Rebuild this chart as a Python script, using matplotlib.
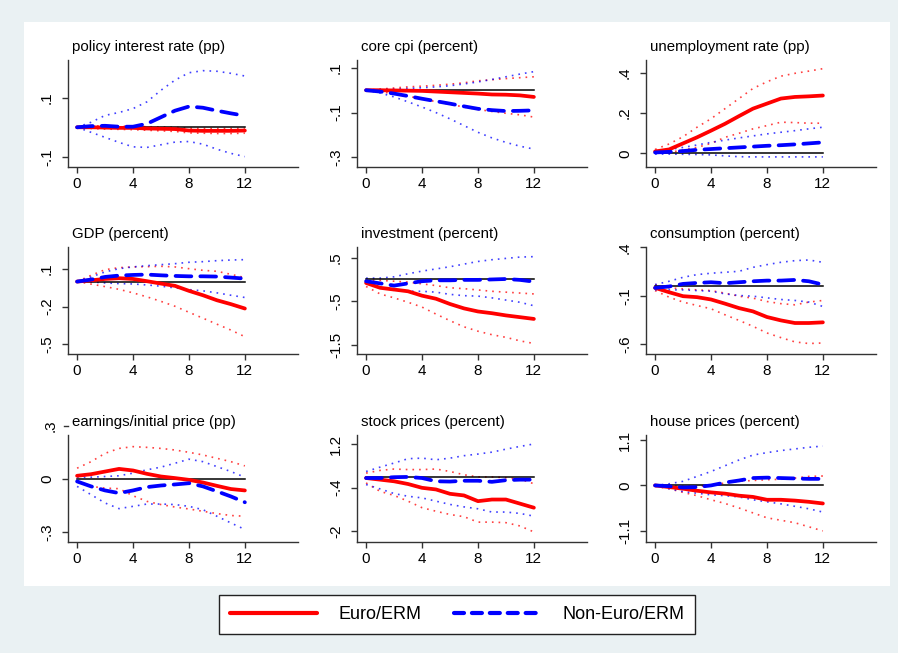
import matplotlib
matplotlib.use('Agg')
import matplotlib.pyplot as plt
from matplotlib.lines import Line2D
from matplotlib.patches import Rectangle

plt.rcParams['font.family'] = ['Liberation Sans', 'DejaVu Sans']

# horizon (quarters)
horizon = list(range(13))

# policy interest rate (pp)
policy_euro = [0, 0, -0.001, -0.002, -0.002, -0.004, -0.005, -0.006, -0.011, -0.012, -0.012, -0.012, -0.011]
policy_euro_hi = [0, 0.004, 0.005, 0.004, 0.003, 0.002, 0.001, 0, -0.003, -0.004, -0.004, -0.004, -0.003]
policy_euro_lo = [0, -0.004, -0.006, -0.007, -0.008, -0.01, -0.012, -0.014, -0.019, -0.02, -0.021, -0.021, -0.02]
policy_non = [0, 0.004, 0.005, 0.002, 0.002, 0.012, 0.034, 0.056, 0.07, 0.066, 0.056, 0.047, 0.039]
policy_non_hi = [0, 0.017, 0.04, 0.05, 0.063, 0.086, 0.125, 0.159, 0.184, 0.191, 0.189, 0.182, 0.173]
policy_non_lo = [0, -0.017, -0.034, -0.051, -0.066, -0.068, -0.059, -0.05, -0.048, -0.057, -0.074, -0.088, -0.099]

# core cpi (percent)
cpi_euro = [0, 0, -0.001, -0.002, -0.003, -0.006, -0.009, -0.012, -0.015, -0.019, -0.02, -0.023, -0.03]
cpi_euro_hi = [0, 0.005, 0.01, 0.015, 0.018, 0.022, 0.027, 0.033, 0.042, 0.047, 0.052, 0.056, 0.06]
cpi_euro_lo = [0, -0.007, -0.016, -0.027, -0.039, -0.051, -0.063, -0.075, -0.086, -0.095, -0.103, -0.11, -0.12]
cpi_non = [0, -0.006, -0.015, -0.026, -0.038, -0.049, -0.06, -0.072, -0.083, -0.089, -0.093, -0.092, -0.09]
cpi_non_hi = [0, 0.003, 0.005, 0.008, 0.011, 0.015, 0.02, 0.028, 0.037, 0.048, 0.06, 0.072, 0.083]
cpi_non_lo = [0, -0.012, -0.03, -0.052, -0.075, -0.1, -0.128, -0.158, -0.188, -0.213, -0.233, -0.25, -0.263]

# unemployment rate (pp)
unemp_euro = [0.01, 0.02, 0.05, 0.08, 0.113, 0.147, 0.185, 0.222, 0.247, 0.272, 0.28, 0.283, 0.287]
unemp_euro_hi = [0.02, 0.047, 0.083, 0.13, 0.172, 0.222, 0.272, 0.322, 0.355, 0.383, 0.397, 0.408, 0.42]
unemp_euro_lo = [0.005, 0.005, 0.017, 0.03, 0.05, 0.08, 0.1, 0.122, 0.138, 0.155, 0.153, 0.15, 0.15]
unemp_non = [0.005, 0.008, 0.012, 0.018, 0.022, 0.026, 0.03, 0.034, 0.038, 0.041, 0.045, 0.05, 0.055]
unemp_non_hi = [0.01, 0.02, 0.03, 0.042, 0.055, 0.066, 0.077, 0.087, 0.097, 0.105, 0.113, 0.122, 0.13]
unemp_non_lo = [-0.003, -0.003, -0.004, -0.005, -0.007, -0.012, -0.016, -0.017, -0.017, -0.017, -0.017, -0.017, -0.017]

# GDP (percent)
gdp_euro = [0, 0.01, 0.021, 0.027, 0.021, 0.003, -0.016, -0.034, -0.074, -0.109, -0.149, -0.18, -0.215]
gdp_euro_hi = [0, 0.05, 0.095, 0.111, 0.117, 0.119, 0.122, 0.117, 0.103, 0.09, 0.082, 0.058, 0.032]
gdp_euro_lo = [0, -0.02, -0.04, -0.062, -0.09, -0.122, -0.158, -0.197, -0.245, -0.292, -0.34, -0.387, -0.44]
gdp_non = [0, 0.016, 0.037, 0.048, 0.053, 0.056, 0.05, 0.045, 0.042, 0.042, 0.04, 0.032, 0.024]
gdp_non_hi = [0, 0.037, 0.077, 0.103, 0.117, 0.127, 0.135, 0.143, 0.154, 0.159, 0.167, 0.172, 0.175]
gdp_non_lo = [0, -0.003, -0.011, -0.016, -0.019, -0.027, -0.037, -0.05, -0.064, -0.074, -0.09, -0.109, -0.127]

# investment (percent)
inv_euro = [-0.08, -0.19, -0.23, -0.27, -0.37, -0.44, -0.56, -0.66, -0.73, -0.77, -0.82, -0.86, -0.9]
inv_euro_hi = [-0.02, -0.02, -0.04, -0.06, -0.1, -0.14, -0.19, -0.21, -0.24, -0.27, -0.29, -0.31, -0.33]
inv_euro_lo = [-0.16, -0.33, -0.42, -0.52, -0.63, -0.79, -0.94, -1.08, -1.18, -1.26, -1.32, -1.4, -1.46]
inv_non = [-0.04, -0.09, -0.14, -0.09, -0.04, -0.02, -0.02, -0.01, -0.01, 0, 0.01, -0.01, -0.05]
inv_non_hi = [0.03, 0.03, 0.06, 0.13, 0.19, 0.24, 0.29, 0.35, 0.41, 0.45, 0.48, 0.51, 0.52]
inv_non_lo = [-0.1, -0.19, -0.25, -0.27, -0.27, -0.29, -0.34, -0.37, -0.38, -0.42, -0.47, -0.52, -0.6]

# consumption (percent)
cons_euro = [-0.017, -0.062, -0.103, -0.113, -0.137, -0.18, -0.226, -0.26, -0.318, -0.353, -0.38, -0.38, -0.373]
cons_euro_hi = [0.017, -0.017, -0.027, -0.038, -0.045, -0.072, -0.103, -0.123, -0.158, -0.18, -0.192, -0.164, -0.147]
cons_euro_lo = [-0.045, -0.113, -0.164, -0.199, -0.233, -0.295, -0.353, -0.414, -0.483, -0.531, -0.575, -0.592, -0.586]
cons_non = [-0.017, -0.003, 0.024, 0.034, 0.041, 0.031, 0.041, 0.051, 0.058, 0.058, 0.065, 0.051, 0.017]
cons_non_hi = [0.017, 0.051, 0.092, 0.12, 0.134, 0.144, 0.154, 0.195, 0.223, 0.247, 0.264, 0.271, 0.247]
cons_non_lo = [-0.038, -0.038, -0.038, -0.045, -0.051, -0.079, -0.096, -0.103, -0.12, -0.137, -0.147, -0.164, -0.209]

# earnings/initial price (pp)
earn_euro = [0.019, 0.028, 0.043, 0.058, 0.049, 0.03, 0.015, 0.006, -0.004, -0.019, -0.038, -0.056, -0.064]
earn_euro_hi = [0.062, 0.099, 0.146, 0.174, 0.184, 0.18, 0.174, 0.165, 0.152, 0.137, 0.118, 0.099, 0.075]
earn_euro_lo = [-0.013, -0.041, -0.051, -0.054, -0.094, -0.126, -0.144, -0.158, -0.169, -0.182, -0.195, -0.206, -0.21]
earn_non = [-0.013, -0.041, -0.064, -0.079, -0.064, -0.045, -0.036, -0.03, -0.023, -0.041, -0.069, -0.098, -0.131]
earn_non_hi = [0.011, 0.011, 0.015, 0.019, 0.034, 0.053, 0.068, 0.09, 0.113, 0.099, 0.071, 0.043, 0.011]
earn_non_lo = [-0.041, -0.088, -0.135, -0.167, -0.154, -0.141, -0.141, -0.144, -0.154, -0.173, -0.21, -0.248, -0.285]

# stock prices (percent)
stock_euro = [-0.05, -0.11, -0.17, -0.27, -0.41, -0.47, -0.63, -0.69, -0.9, -0.84, -0.84, -0.99, -1.14]
stock_euro_hi = [0.13, 0.23, 0.28, 0.26, 0.26, 0.28, 0.19, 0.07, -0.01, -0.01, -0.04, -0.09, -0.26]
stock_euro_lo = [-0.23, -0.54, -0.69, -0.9, -1.14, -1.27, -1.39, -1.47, -1.67, -1.67, -1.69, -1.81, -2.03]
stock_non = [-0.05, -0.05, -0.02, -0.01, -0.05, -0.17, -0.18, -0.15, -0.15, -0.19, -0.13, -0.11, -0.11]
stock_non_hi = [0.19, 0.35, 0.5, 0.66, 0.68, 0.62, 0.68, 0.77, 0.83, 0.9, 1.01, 1.11, 1.2]
stock_non_lo = [-0.29, -0.45, -0.62, -0.72, -0.78, -0.9, -1.02, -1.11, -1.18, -1.3, -1.3, -1.35, -1.45]

# house prices (percent)
house_euro = [0, -0.04, -0.08, -0.13, -0.17, -0.2, -0.25, -0.28, -0.35, -0.35, -0.37, -0.4, -0.44]
house_euro_hi = [0, -0.02, -0.02, -0.02, 0, 0.06, 0.1, 0.12, 0.14, 0.15, 0.18, 0.22, 0.23]
house_euro_lo = [-0.02, -0.08, -0.17, -0.25, -0.35, -0.44, -0.55, -0.67, -0.79, -0.85, -0.91, -1.01, -1.11]
house_non = [0, -0.02, -0.05, -0.04, 0, 0.07, 0.12, 0.18, 0.19, 0.18, 0.17, 0.16, 0.16]
house_non_hi = [0, 0.04, 0.1, 0.22, 0.34, 0.48, 0.62, 0.74, 0.8, 0.85, 0.89, 0.93, 0.96]
house_non_lo = [0, -0.08, -0.15, -0.19, -0.23, -0.25, -0.28, -0.35, -0.4, -0.45, -0.51, -0.57, -0.65]

titles = ['policy interest rate (pp)', 'core cpi (percent)', 'unemployment rate (pp)',
          'GDP (percent)', 'investment (percent)', 'consumption (percent)',
          'earnings/initial price (pp)', 'stock prices (percent)', 'house prices (percent)']

series = [
    (policy_euro, policy_euro_lo, policy_euro_hi, policy_non, policy_non_lo, policy_non_hi),
    (cpi_euro, cpi_euro_lo, cpi_euro_hi, cpi_non, cpi_non_lo, cpi_non_hi),
    (unemp_euro, unemp_euro_lo, unemp_euro_hi, unemp_non, unemp_non_lo, unemp_non_hi),
    (gdp_euro, gdp_euro_lo, gdp_euro_hi, gdp_non, gdp_non_lo, gdp_non_hi),
    (inv_euro, inv_euro_lo, inv_euro_hi, inv_non, inv_non_lo, inv_non_hi),
    (cons_euro, cons_euro_lo, cons_euro_hi, cons_non, cons_non_lo, cons_non_hi),
    (earn_euro, earn_euro_lo, earn_euro_hi, earn_non, earn_non_lo, earn_non_hi),
    (stock_euro, stock_euro_lo, stock_euro_hi, stock_non, stock_non_lo, stock_non_hi),
    (house_euro, house_euro_lo, house_euro_hi, house_non, house_non_lo, house_non_hi),
]

y_ticks = [[-0.1, 0.1], [-0.3, -0.1, 0.1], [0, 0.2, 0.4],
           [-0.5, -0.2, 0.1], [-1.5, -0.5, 0.5], [-0.6, -0.1, 0.4],
           [-0.3, 0], [-2, -0.4, 1.2], [-1.1, 0, 1.1]]
y_ticklabels = [['-.1', '.1'], ['-.3', '-.1', '.1'], ['0', '.2', '.4'],
                ['-.5', '-.2', '.1'], ['-1.5', '-.5', '.5'], ['-.6', '-.1', '.4'],
                ['-.3', '0'], ['-2', '-.4', '1.2'], ['-1.1', '0', '1.1']]
y_limits = [(-0.134, 0.227), (-0.343, 0.135), (-0.067, 0.463),
            (-0.578, 0.276), (-1.70, 0.74), (-0.70, 0.405),
            (-0.356, 0.25), (-2.40, 1.53), (-1.38, 1.23)]

RED = '#ff0000'
BLUE = '#0000ff'

W, H = 898, 653
fig = plt.figure(figsize=(W / 100, H / 100), dpi=100)
fig.patch.set_facecolor('#eaf1f3')
fig.patches.append(Rectangle((24 / W, 1 - 586 / H), 866 / W, 564 / H,
                             transform=fig.transFigure, facecolor='white',
                             edgecolor='none', zorder=-10))

col_left = [68, 357, 646]
row_top = [60, 247, 435]
ax_w, ax_h = 230, 107

dotted = (0, (1, 3))
dashed = (0, (4.2, 2.4))

for i, (title, s) in enumerate(zip(titles, series)):
    r, c = divmod(i, 3)
    ax = fig.add_axes([col_left[c] / W, 1 - (row_top[r] + ax_h) / H, ax_w / W, ax_h / H])
    ax.set_facecolor('none')
    e, e_lo, e_hi, n, n_lo, n_hi = s

    ax.plot(horizon, e_lo, color=RED, lw=1.2, ls=dotted, alpha=0.75)
    ax.plot(horizon, e_hi, color=RED, lw=1.2, ls=dotted, alpha=0.75)
    ax.plot(horizon, n_lo, color=BLUE, lw=1.2, ls=dotted, alpha=0.75)
    ax.plot(horizon, n_hi, color=BLUE, lw=1.2, ls=dotted, alpha=0.75)
    ax.plot([horizon[0], horizon[-1]], [0, 0], color='black', lw=1.1)
    ax.plot(horizon, e, color=RED, lw=2.7, solid_capstyle='round')
    ax.plot(horizon, n, color=BLUE, lw=2.7, ls=dashed, dash_capstyle='round')

    ax.set_xlim(-0.65, 15.8)
    ax.set_ylim(*y_limits[i])
    ax.set_xticks([0, 4, 8, 12])
    ax.set_yticks(y_ticks[i])
    ax.set_yticklabels(y_ticklabels[i], rotation=90, va='center')
    ax.tick_params(axis='both', length=4, width=1, color='#333333', labelsize=11)
    ax.tick_params(axis='y', pad=6)
    ax.tick_params(axis='x', pad=3)
    for side in ['top', 'right']:
        ax.spines[side].set_visible(False)
    for side in ['left', 'bottom']:
        ax.spines[side].set_color('#333333')
        ax.spines[side].set_linewidth(1)

    ax.text(0.017, 1.125, title, transform=ax.transAxes, fontsize=10.8,
            ha='left', va='center')

    if i == 6:
        # Stata draws the .3 tick just above the plot region
        tr = ax.get_yaxis_transform()
        ax.plot([-4 / ax_w, 0], [0.3, 0.3], transform=tr, color='#333333',
                lw=1, clip_on=False)
        ax.text(-10 / ax_w, 0.3, '.3', transform=tr, rotation=90, fontsize=11,
                ha='right', va='center', clip_on=False)

handles = [Line2D([], [], color=RED, lw=3, solid_capstyle='round'),
           Line2D([], [], color=BLUE, lw=3, ls=(0, (2.4, 1.9)), dash_capstyle='round')]
leg = fig.legend(handles, ['Euro/ERM', 'Non-Euro/ERM'], ncol=2,
                 loc='center', bbox_to_anchor=(457 / W, 1 - 614.5 / H),
                 fontsize=13, frameon=True, fancybox=False, framealpha=1,
                 handlelength=4.8, handletextpad=1.2, columnspacing=1.8,
                 borderpad=0.6, borderaxespad=0)
leg.get_frame().set_edgecolor('#222222')
leg.get_frame().set_linewidth(1)
leg.get_frame().set_facecolor('white')

fig.savefig('out.png', dpi=100, facecolor=fig.get_facecolor())
